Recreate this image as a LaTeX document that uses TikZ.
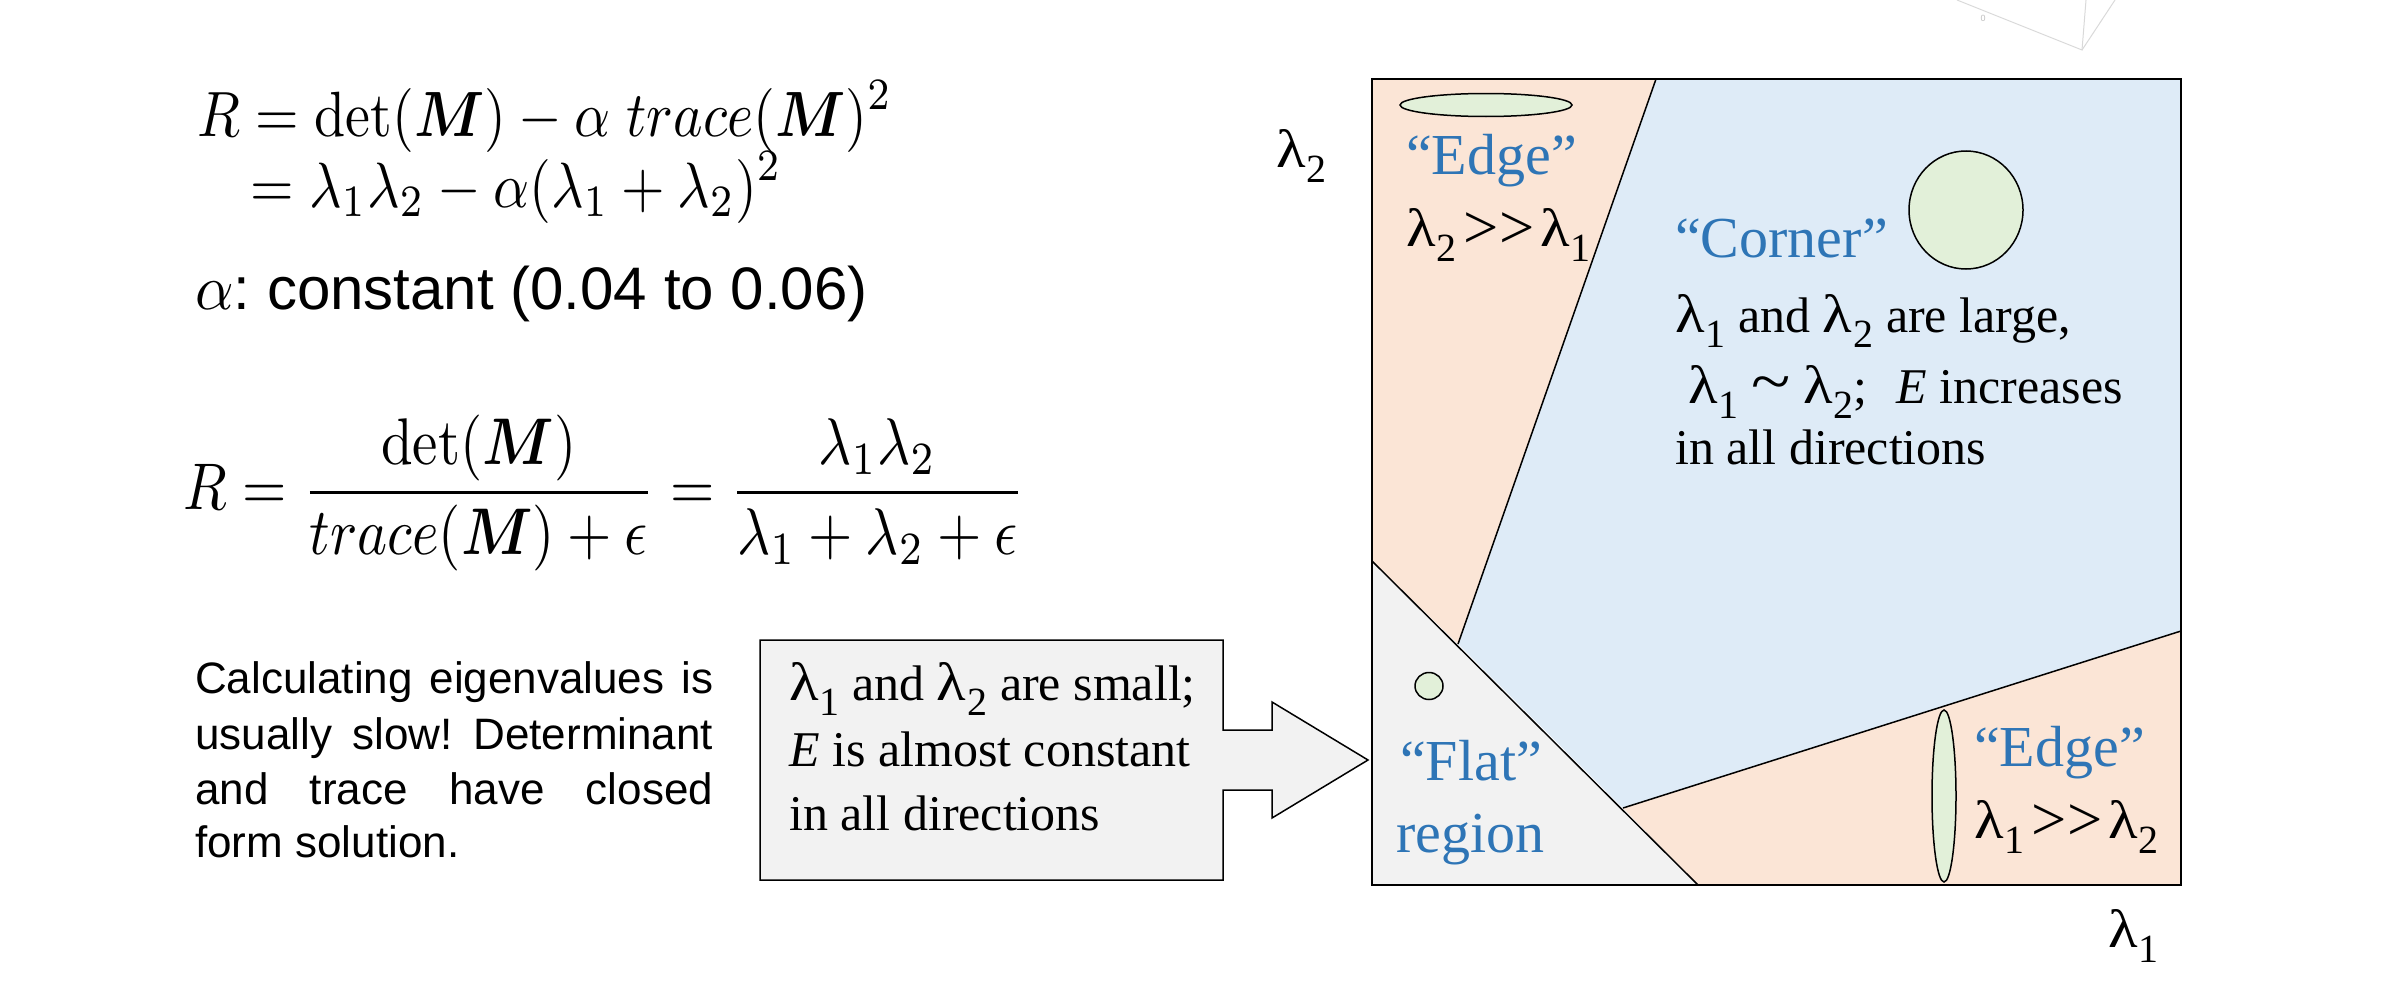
\documentclass[tikz,border=0pt]{standalone}
\usepackage{amsmath}
\usepackage{graphicx}
\usepackage[no-math]{fontspec}
\setmainfont{Liberation Serif}
\newfontfamily\arialfont{Liberation Sans}
\definecolor{pinkfill}{HTML}{FBE5D6}
\definecolor{bluefill}{HTML}{DEEBF7}
\definecolor{grayfill}{HTML}{F2F2F2}
\definecolor{greenfill}{HTML}{E2F0D9}
\definecolor{labelblue}{HTML}{2E75B6}
\frenchspacing
\newcommand{\lsub}[1]{\scalebox{1.22}[1.08]{λ}\kern0.02em\raisebox{-0.3em}{\scalebox{0.8}{#1}}}
\newcommand{\onegt}{\raisebox{-0.05em}{\scalebox{1.25}[1.25]{>}}}
\newcommand{\muchgt}{\onegt\kern0.01em\onegt}
\newcommand{\bigmath}[3]{\scalebox{#1}[#2]{\fontsize{10}{12}\selectfont$\displaystyle #3$}}
\tikzset{
  body/.style={font=\fontsize{50}{60}\selectfont, inner sep=0pt, anchor=base west},
  qlabel/.style={font=\fontsize{58}{68}\selectfont, text=labelblue, inner sep=0pt, anchor=base west},
  arialtext/.style={font=\arialfont\fontsize{44}{55}\selectfont, inner sep=0pt, anchor=base west},
  mathtext/.style={inner sep=0pt, anchor=base west},
  blob/.style={fill=greenfill, draw=black, line width=1.5pt},
  border/.style={draw=black, line width=1.5pt},
}
\begin{document}
\begin{tikzpicture}[x=1pt,y=-1pt]
\useasboundingbox (0,0) rectangle (2388,982);
% faint artifact top right
\draw[gray!30, line width=1pt] (1957,0) -- (2082,50) -- (2086,0);
\draw[gray!30, line width=1pt] (2082,50) -- (2115,0);
\node[font=\arialfont\fontsize{9}{10}\selectfont, text=gray!50, inner sep=0pt] (zero) at (1983,18) {0};

% region coordinates
\coordinate (TL) at (1372,79);
\coordinate (TR) at (2181,79);
\coordinate (BR) at (2181,885);
\coordinate (BL) at (1372,885);
\coordinate (FL) at (1372,561);
\coordinate (FB) at (1698,885);
\coordinate (ET) at (1656,79);
\coordinate (EM) at (1458,644);
\coordinate (BE) at (1623,808);
\coordinate (RE) at (2181,631);

\fill[pinkfill] (TL) -- (ET) -- (EM) -- (FL) -- cycle;
\fill[bluefill] (ET) -- (TR) -- (RE) -- (BE) -- (EM) -- cycle;
\fill[pinkfill] (BE) -- (RE) -- (BR) -- (FB) -- cycle;
\fill[grayfill] (FL) -- (FB) -- (BL) -- cycle;
\draw[border] (FL) -- (FB);
\draw[border] (ET) -- (EM);
\draw[border] (BE) -- (RE);
\draw[draw=black, line width=2pt] (TL) rectangle (BR);

% ellipses
\draw[blob] (1486,105) ellipse [x radius=86pt, y radius=11.5pt];
\draw[blob] (1966,210) ellipse [x radius=57pt, y radius=59pt];
\draw[blob] (1429,686) ellipse [x radius=14pt, y radius=13.5pt];
\draw[blob] (1944,796) ellipse [x radius=12pt, y radius=86pt];

% labels in box
\node[qlabel] (edge1) at (1406,174) {“Edge”};
\node[body] (edge1r) at (1406,246) {\lsub{2}\kern0.13em\muchgt\kern0.12em\lsub{1}};
\node[qlabel] (corner) at (1675,257) {“Corner”};
\node[body] (c1) at (1675,332) {\lsub{1} and \lsub{2} are large,};
\node[body] (c2) at (1688,403) {\lsub{1} \raisebox{0.02em}{\scalebox{1.45}[1.25]{\textasciitilde}} \lsub{2};\,\, \textit{E} increases};
\node[body] (c3) at (1675,464) {in all directions};
\node[qlabel] (edge2) at (1974,766) {“Edge”};
\node[body] (edge2r) at (1974,838) {\lsub{1}\kern0.13em\muchgt\kern0.12em\lsub{2}};
\node[qlabel] (flat) at (1400,780) {“Flat”};
\node[qlabel] (region) at (1396,852) {region};

% axes labels
\node[body] (ax2) at (1276,167) {\lsub{2}};
\node[body] (ax1) at (2108,947) {\lsub{1}};

% callout
\coordinate (K1) at (760,640);
\coordinate (K2) at (1223,640);
\coordinate (K3) at (1223,730);
\coordinate (K4) at (1272,730);
\coordinate (K5) at (1272,702);
\coordinate (Ktip) at (1368,760);
\coordinate (K6) at (1272,818);
\coordinate (K7) at (1272,790);
\coordinate (K8) at (1223,790);
\coordinate (K9) at (1223,880);
\coordinate (K10) at (760,880);
\draw[fill=grayfill, draw=black, line width=1.5pt] (K1) -- (K2) -- (K3) -- (K4) -- (K5) -- (Ktip) -- (K6) -- (K7) -- (K8) -- (K9) -- (K10) -- cycle;
\node[body] (s1) at (789,700) {\lsub{1} and \lsub{2} are small;};
\node[body] (s2) at (789,766) {\textit{E} is almost constant};
\node[body] (s3) at (789,830) {in all directions};

% left text
\node[mathtext] (f1) at (197,136) {\bigmath{5.6}{6.4}{R = \det(\boldsymbol{M}) - \alpha\; trace(\boldsymbol{M})^2}};
\node[mathtext] (f2) at (250,207) {\bigmath{5.6}{6.4}{= \lambda_1\lambda_2 - \alpha(\lambda_1 + \lambda_2)^2}};
\node[arialtext, font=\arialfont\fontsize{60}{70}\selectfont] (alpha) at (195,309) {\bigmath{6.0}{6.4}{\alpha}: constant (0.04 to 0.06)};
\node[mathtext] (f3) at (183,509) {\bigmath{5.7}{6.6}{R = \frac{\det(\boldsymbol{M})}{trace(\boldsymbol{M}) + \epsilon} = \frac{\lambda_1\lambda_2}{\lambda_1 + \lambda_2 + \epsilon}}};

\node[arialtext] (p1) at (195,693) {\makebox[518pt][s]{Calculating eigenvalues is}};
\node[arialtext] (p2) at (195,749) {\makebox[518pt][s]{usually slow! Determinant}};
\node[arialtext] (p3) at (195,804) {\makebox[518pt][s]{and trace have closed}};
\node[arialtext] (p4) at (195,857) {form solution.};
\end{tikzpicture}
\end{document}
